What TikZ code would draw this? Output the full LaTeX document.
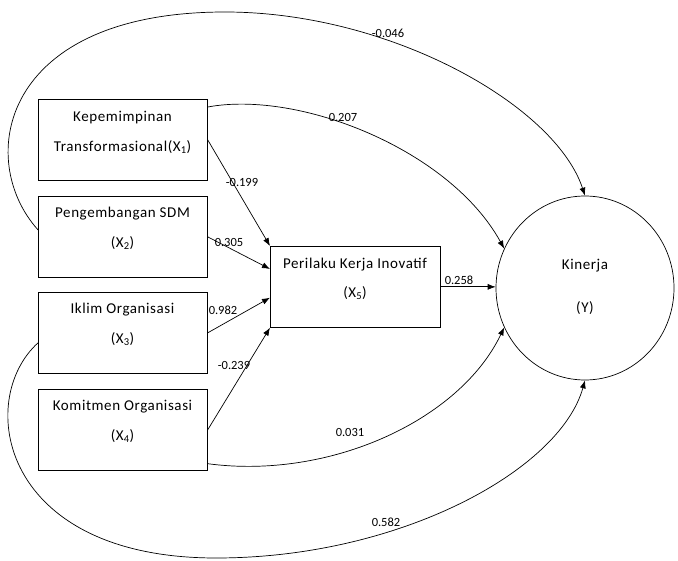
\documentclass[tikz,border=0pt]{standalone}
\usepackage{fontspec}
\setmainfont{Carlito}
\newfontfamily\boxfont[LetterSpace=4]{Carlito}
\usetikzlibrary{arrows.meta,shapes.geometric}
\begin{document}
\begin{tikzpicture}[x=1pt,y=-1pt, line width=0.7pt,
 box/.style={draw, minimum width=169pt, minimum height=81pt, inner sep=0pt, anchor=north west},
 txt/.style={font=\boxfont\fontsize{15}{18}\selectfont, inner sep=0pt},
 coef/.style={font=\fontsize{12.5}{14}\selectfont, inner sep=0.5pt, fill=white, fill opacity=0, text opacity=1},
 arr/.style={-{Latex[length=8pt,width=6pt]}}]
\useasboundingbox (0,0) rectangle (678,561);
\fill[white] (0,0) rectangle (678,561);

\node[box] (x1) at (38,99) {};
\node[box] (x2) at (38,196) {};
\node[box] (x3) at (38,292) {};
\node[box] (x4) at (38,389) {};
\node[box, minimum width=170pt] (x5) at (270,246) {};
\node[draw, ellipse, minimum width=178pt, minimum height=184pt, inner sep=0pt] (y) at (585,288) {};

\node[txt] (t1a) at (122.5,118) {Kepemimpinan};
\node[txt] (t1b) at (122.5,147) {Transformasional(X\textsubscript{1})};
\node[txt] (t2a) at (122.5,214) {Pengembangan SDM};
\node[txt] (t2b) at (122.5,243) {(X\textsubscript{2})};
\node[txt] (t3a) at (122.5,310) {Iklim Organisasi};
\node[txt] (t3b) at (122.5,339) {(X\textsubscript{3})};
\node[txt] (t4a) at (122.5,407) {Komitmen Organisasi};
\node[txt] (t4b) at (122.5,436) {(X\textsubscript{4})};
\node[txt] (t5a) at (355,265) {Perilaku Kerja Inovatif};
\node[txt] (t5b) at (355,293) {(X\textsubscript{5})};
\node[txt] (tya) at (585,266) {Kinerja};
\node[txt] (tyb) at (585,308) {(Y)};

\draw[arr] (x1.east) -- (x5.north west);
\draw[arr] (x2.east) -- ([yshift=-23pt]x5.north west);
\draw[arr] (x3.east) -- ([yshift=30pt]x5.south west);
\draw[arr] (x4.east) -- (x5.south west);
\draw[arr] (x5.east) -- (x5.east -| y.west);

\draw[arr] ([yshift=-8pt]x1.north east) .. controls (300,90) and (450,150) .. (y.154);
\draw[arr] ([yshift=7pt]x2.west) .. controls (-25,160) and (0,12) .. (225,12) .. controls (390,12) and (555,105) .. (y.north);
\draw[arr] ([yshift=7pt]x4.south east) .. controls (330,480) and (460,420) .. (y.206);
\draw[arr] ([yshift=-10pt]x3.west) .. controls (-25,400) and (0,558) .. (216,558) .. controls (400,558) and (560,470) .. (y.south);

\node[coef] (c1) at (388,33) {-0.046};
\node[coef] (c2) at (343,117) {0.207};
\node[coef] (c3) at (242,182) {-0.199};
\node[coef] (c4) at (229,242) {0.305};
\node[coef] (c5) at (223,310) {0.982};
\node[coef] (c6) at (234,365) {-0.239};
\node[coef] (c7) at (459,280) {0.258};
\node[coef] (c8) at (350,432) {0.031};
\node[coef] (c9) at (386,522) {0.582};
\end{tikzpicture}
\end{document}
